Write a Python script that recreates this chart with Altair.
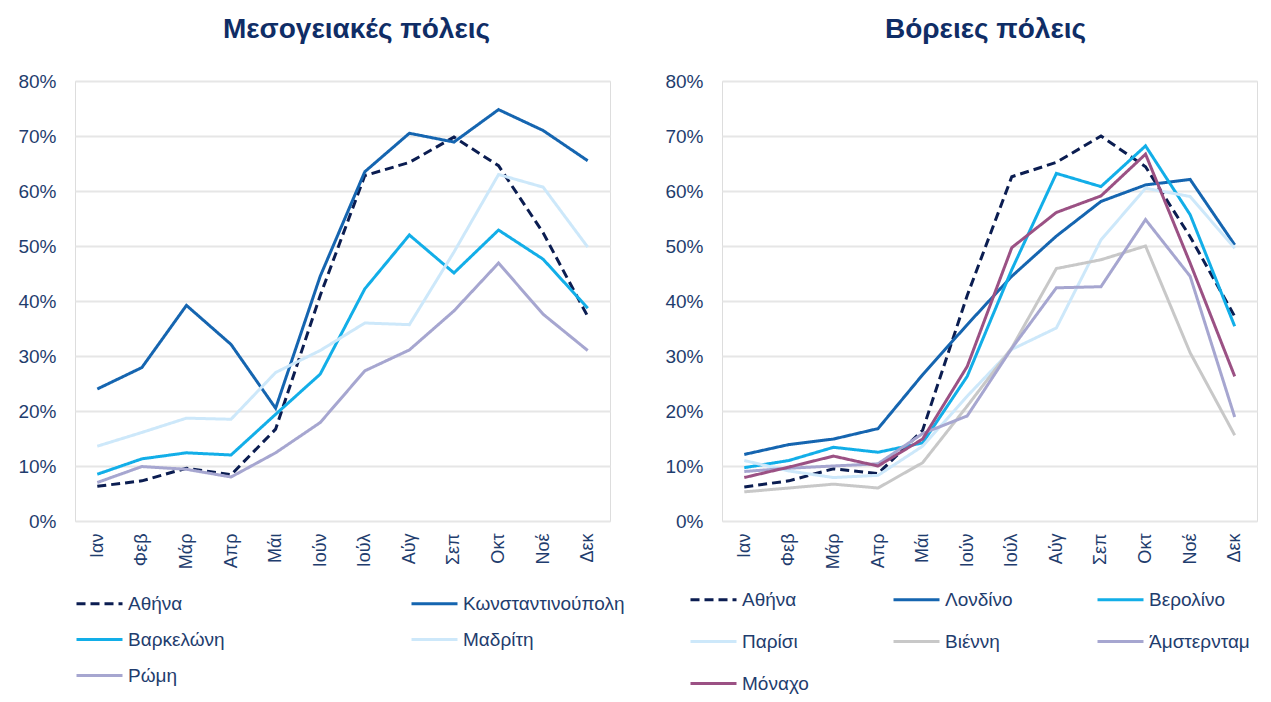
import altair as alt
import pandas as pd

months = ["Ιαν", "Φεβ", "Μάρ", "Απρ", "Μάι", "Ιούν", "Ιούλ", "Αύγ", "Σεπ", "Οκτ", "Νοέ", "Δεκ"]

# Mediterranean cities (occupancy %)
med_athens = [6.3, 7.3, 9.6, 8.4, 16.7, 41.0, 62.8, 65.2, 69.8, 64.6, 52.4, 37.2]
med_konst = [24.0, 27.9, 39.2, 32.1, 20.5, 44.5, 63.5, 70.5, 68.9, 74.8, 71.0, 65.5]
med_barc = [8.5, 11.3, 12.4, 12.0, 19.4, 26.7, 42.2, 52.0, 45.1, 52.9, 47.6, 38.7]
med_madrid = [13.6, 16.1, 18.7, 18.5, 27.0, 31.0, 36.0, 35.7, 48.9, 63.0, 60.7, 49.8]
med_rome = [7.0, 9.9, 9.4, 8.0, 12.4, 17.9, 27.3, 31.1, 38.2, 46.9, 37.6, 31.0]

# Northern cities (occupancy %)
nor_athens = [6.2, 7.3, 9.5, 8.6, 16.5, 41.0, 62.6, 65.2, 70.0, 64.4, 51.7, 37.2]
nor_london = [12.1, 13.9, 14.9, 16.8, 26.6, 35.7, 44.5, 51.8, 58.1, 61.1, 62.1, 50.2]
nor_berlin = [9.7, 11.0, 13.4, 12.5, 14.2, 26.3, 45.7, 63.2, 60.8, 68.2, 55.7, 35.4]
nor_paris = [11.0, 9.1, 7.9, 8.3, 13.6, 22.7, 31.2, 35.1, 51.1, 60.5, 59.0, 49.6]
nor_vienna = [5.3, 6.0, 6.7, 6.0, 10.6, 20.9, 31.5, 45.9, 47.5, 50.0, 30.6, 15.6]
nor_amst = [9.0, 9.6, 10.0, 10.4, 15.9, 19.1, 31.4, 42.4, 42.6, 54.8, 44.5, 18.9]
nor_munich = [7.9, 9.8, 11.8, 10.0, 14.9, 28.1, 49.7, 56.1, 59.1, 66.7, 46.9, 26.3]

med_names = ["Αθήνα", "Κωνσταντινούπολη", "Βαρκελώνη", "Μαδρίτη", "Ρώμη"]
med_series = [med_athens, med_konst, med_barc, med_madrid, med_rome]
med_colors = ["#0b1d51", "#1565b0", "#12aee8", "#cde8fa", "#a6a6d0"]

nor_names = ["Αθήνα", "Λονδίνο", "Βερολίνο", "Παρίσι", "Βιέννη", "Άμστερνταμ", "Μόναχο"]
nor_series = [nor_athens, nor_london, nor_berlin, nor_paris, nor_vienna, nor_amst, nor_munich]
nor_colors = ["#0b1d51", "#1565b0", "#12aee8", "#cde8fa", "#c8c8c8", "#a6a6d0", "#9b5184"]


def build(names, series):
    rows = []
    for n, vals in zip(names, series):
        for m, v in zip(months, vals):
            rows.append({"city": n, "month": m, "value": v / 100.0})
    return pd.DataFrame(rows)


TXT = "#1f3d6e"
FONT = "Liberation Sans"


def legend(cols, colpad, rowpad, lx, ly):
    return alt.Legend(
        title=None,
        orient="none",
        legendX=lx,
        legendY=ly,
        direction="horizontal",
        columns=cols,
        columnPadding=colpad,
        rowPadding=rowpad,
        symbolType="M-2.3,0H2.3",
        symbolSize=400,
        symbolStrokeWidth=3,
        symbolFillColor="transparent",
        labelFontSize=19,
        labelColor=TXT,
        labelFont=FONT,
        labelOffset=17,
        labelLimit=400,
        gridAlign="each",
    )


def panel(names, series, colors, title, width, cols, colpad, rowpad, lx, ly, tdx):
    df = build(names, series)
    dashes = [[9, 5]] + [[1, 0]] * (len(names) - 1)
    return (
        alt.Chart(df)
        .mark_line(strokeWidth=3)
        .encode(
            x=alt.X(
                "month:O",
                sort=months,
                scale=alt.Scale(type="point", padding=0.5),
                axis=alt.Axis(
                    title=None,
                    labelAngle=-90,
                    labelFontSize=18,
                    labelColor=TXT,
                    labelFont=FONT,
                    domain=False,
                    ticks=False,
                    labelPadding=12,
                    labelBaseline="middle",
                    labelAlign="right",
                ),
            ),
            y=alt.Y(
                "value:Q",
                scale=alt.Scale(domain=[0, 0.8]),
                axis=alt.Axis(
                    title=None,
                    format=".0%",
                    values=[0, 0.1, 0.2, 0.3, 0.4, 0.5, 0.6, 0.7, 0.8],
                    labelFontSize=19,
                    labelColor=TXT,
                    labelFont=FONT,
                    domain=False,
                    ticks=False,
                    labelPadding=19,
                    gridColor="#e6e6e6",
                    gridWidth=2,
                ),
            ),
            color=alt.Color(
                "city:N",
                sort=names,
                scale=alt.Scale(domain=names, range=colors),
                legend=legend(cols, colpad, rowpad, lx, ly),
            ),
            strokeDash=alt.StrokeDash(
                "city:N",
                sort=names,
                scale=alt.Scale(domain=names, range=dashes),
                legend=legend(cols, colpad, rowpad, lx, ly),
            ),
        )
        .properties(
            width=width,
            height=440,
            title=alt.TitleParams(
                title, fontSize=28, font=FONT, fontWeight="bold", color="#0f2d66",
                offset=28, dx=tdx
            ),
        )
    )


left = panel(med_names, med_series, med_colors, "Μεσογειακές πόλεις", 535, 2, 180, 14, 13, 511, 14)
right = panel(nor_names, nor_series, nor_colors, "Βόρειες πόλεις", 535, 3, 78, 20, -20, 507, -4)

chart = (
    alt.hconcat(left, right, spacing=38)
    .resolve_scale(color="independent", strokeDash="independent")
    .resolve_legend(color="independent", strokeDash="independent")
    .properties(padding={"left": 9, "top": 7, "right": 0, "bottom": 0})
    .configure_view(stroke=None)
    .configure(background="white")
)

chart.save("out.html", embed_options={"renderer": "svg", "actions": False})
